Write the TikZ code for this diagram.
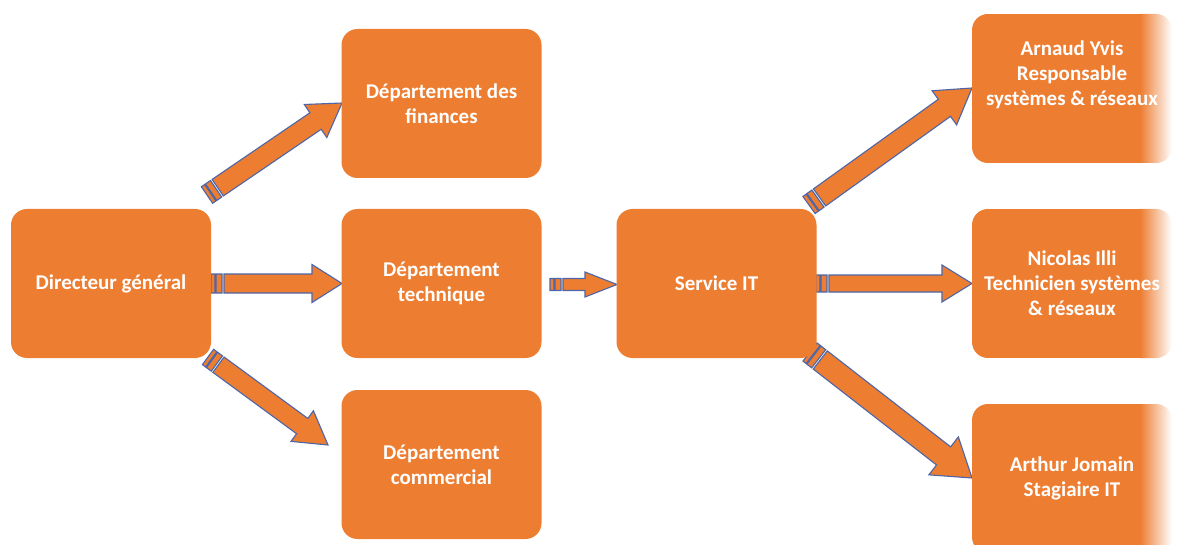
\documentclass[tikz,border=0pt]{standalone}
\usepackage{fontspec}
\setmainfont{Carlito}
\usetikzlibrary{calc}

\definecolor{boxorange}{HTML}{ED7D31}
\definecolor{arrowedge}{HTML}{4D66A8}

\tikzset{
  orgbox/.style={rectangle, rounded corners=16pt, fill=boxorange, draw=none,
    minimum width=200pt, minimum height=149pt, inner sep=0pt,
    text=white, align=center, font=\bfseries\fontsize{21}{25}\selectfont},
  fadebox/.style={orgbox, fill=none,
    path picture={
      \fill[boxorange, sharp corners] (path picture bounding box.south west)
        rectangle ([xshift=-32pt]path picture bounding box.north east);
      \shade[left color=boxorange, right color=white, sharp corners]
        ([xshift=-32pt]path picture bounding box.south east)
        rectangle (path picture bounding box.north east);
    }},
  boxtext/.style={text=white, align=center, inner sep=0pt,
    font=\bfseries\fontsize{21}{25}\selectfont},
  blockarrow/.style={fill=boxorange, draw=arrowedge, line width=1.1pt, line join=miter},
}

% striped block arrow: #1 tail, #2 tip, #3 shaft half width,
% #4 head half width, #5 head length
\newcommand\stripedarrow[5]{%
  \path[blockarrow] let \p1=($(#2)-(#1)$), \n1={atan2(\y1,\x1)} in
    ($(#1)+(\n1+90:#3)$) -- ($(#1)+(\n1-90:#3)$)
      -- ($(#1)+(\n1:4pt)+(\n1-90:#3)$) -- ($(#1)+(\n1:4pt)+(\n1+90:#3)$) -- cycle
    ($(#1)+(\n1:5pt)+(\n1+90:#3)$) -- ($(#1)+(\n1:5pt)+(\n1-90:#3)$)
      -- ($(#1)+(\n1:11pt)+(\n1-90:#3)$) -- ($(#1)+(\n1:11pt)+(\n1+90:#3)$) -- cycle
    ($(#1)+(\n1:13pt)+(\n1+90:#3)$)
      -- ($(#2)+(\n1+180:#5)+(\n1+90:#3)$)
      -- ($(#2)+(\n1+180:#5)+(\n1+90:#4)$)
      -- (#2)
      -- ($(#2)+(\n1+180:#5)+(\n1-90:#4)$)
      -- ($(#2)+(\n1+180:#5)+(\n1-90:#3)$)
      -- ($(#1)+(\n1:13pt)+(\n1-90:#3)$) -- cycle;
}

\begin{document}
\begin{tikzpicture}[x=1pt, y=-1pt]
\useasboundingbox (0,0) rectangle (1177,545);

% arrow ends
\coordinate (a1s) at (207,195);   \coordinate (a1e) at (342,103);
\coordinate (a2s) at (211,283.5); \coordinate (a2e) at (342,283.5);
\coordinate (a3s) at (550,284.5); \coordinate (a3e) at (617,284.5);
\coordinate (a4s) at (208,357);   \coordinate (a4e) at (328,445);
\coordinate (a5s) at (809,205);   \coordinate (a5e) at (972,88);
\coordinate (a6s) at (816,283.5); \coordinate (a6e) at (972,283.5);
\coordinate (a7s) at (810,352);   \coordinate (a7e) at (972,478);

% arrows lie beneath the boxes
\stripedarrow{a1s}{a1e}{10pt}{20pt}{32pt}
\stripedarrow{a2s}{a2e}{9.5pt}{19pt}{30pt}
\stripedarrow{a3s}{a3e}{6pt}{12.5pt}{32pt}
\stripedarrow{a4s}{a4e}{9.5pt}{19pt}{32pt}
\stripedarrow{a5s}{a5e}{10.5pt}{21pt}{34pt}
\stripedarrow{a6s}{a6e}{8.5pt}{18.5pt}{30pt}
\stripedarrow{a7s}{a7e}{11.5pt}{24pt}{36pt}

% organisation boxes
\node[orgbox] (dg)   at (111,283.5) {Directeur général};
\node[orgbox] (fin)  at (441.5,103.5) {Département des\\finances};
\node[orgbox] (tech) at (441.5,283.5) {Département\\technique};
\node[orgbox] (com)  at (441.5,464.5) {Département\\commercial};
\node[orgbox] (it)   at (716.5,283.5) {Service IT};

\node[fadebox] (arnaud) at (1072,88.5) {};
\node[boxtext] (arnaudtxt) at (1072,75) {Arnaud Yvis\\Responsable\\systèmes \& réseaux};
\node[fadebox] (nicolas) at (1072,283.5) {Nicolas Illi\\Technicien systèmes\\\& réseaux};
\node[fadebox] (arthur) at (1072,478.5) {Arthur Jomain\\Stagiaire IT};
\end{tikzpicture}
\end{document}
